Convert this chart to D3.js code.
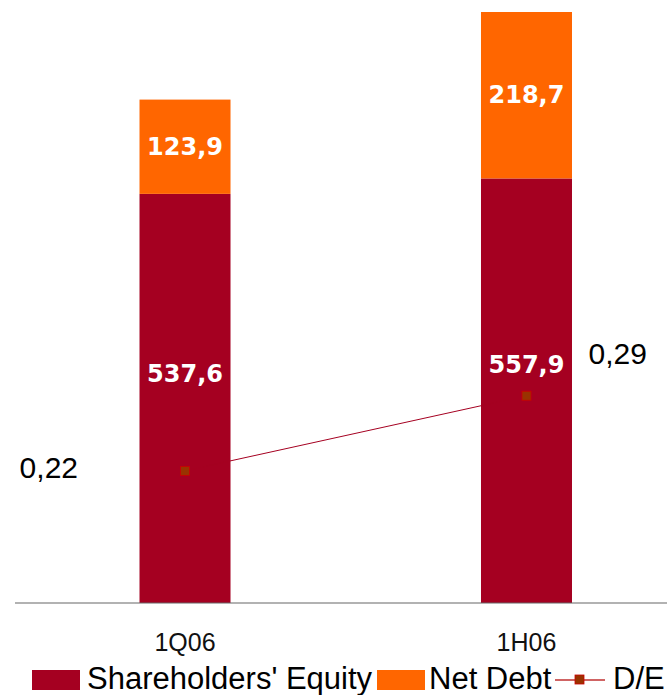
<!DOCTYPE html>
<html>
<head>
<meta charset="utf-8">
<script src="https://cdn.jsdelivr.net/npm/d3@7"></script>
<style>
  html, body { margin: 0; padding: 0; background: #fff; }
  svg { display: block; }
</style>
</head>
<body>
<svg id="chart" width="667" height="695"></svg>
<script>
// ---- data ----
const categories = ["1Q06", "1H06"];
const equity = [537.6, 557.9];
const netDebt = [123.9, 218.7];
const deRatio = [0.22, 0.29];
const equityLabels = ["537,6", "557,9"];
const netDebtLabels = ["123,9", "218,7"];
const deLabels = ["0,22", "0,29"];
const legendLabels = ["Shareholders' Equity", "Net Debt", "D/E"];

// ---- styles ----
const cEquity = "#A50021";
const cDebt = "#FF6600";
const cLine = "#A50021";
const cMarker = "#993300";

const svg = d3.select("#chart");
const W = 667, H = 695;
const baseY = 603;

const x = d3.scaleBand()
  .domain(categories)
  .range([14.25, 697.25])
  .paddingInner(0.7335)
  .paddingOuter(0.3668);

const totals = equity.map((v, i) => v + netDebt[i]);
const y = d3.scaleLinear()
  .domain([0, d3.max(totals)])
  .range([baseY, 12]);

const y2 = d3.scaleLinear()
  .domain([0, 0.3])
  .range([707, 385]);

const rows = categories.map((c, i) => ({
  c, eq: equity[i], nd: netDebt[i], de: deRatio[i],
  eqL: equityLabels[i], ndL: netDebtLabels[i], deL: deLabels[i], i
}));

// bars
const g = svg.append("g");
g.selectAll("rect.eq").data(rows).join("rect")
  .attr("class", "eq")
  .attr("x", d => x(d.c))
  .attr("width", x.bandwidth())
  .attr("y", d => y(d.eq))
  .attr("height", d => y(0) - y(d.eq))
  .attr("fill", cEquity);

g.selectAll("rect.nd").data(rows).join("rect")
  .attr("class", "nd")
  .attr("x", d => x(d.c))
  .attr("width", x.bandwidth())
  .attr("y", d => y(d.eq + d.nd))
  .attr("height", d => y(d.eq) - y(d.eq + d.nd))
  .attr("fill", cDebt);

// bar labels
const barFont = "'DejaVu Sans', Verdana, sans-serif";
g.selectAll("text.eqL").data(rows).join("text")
  .attr("x", d => x(d.c) + x.bandwidth() / 2)
  .attr("y", d => y(d.eq) + 0.44 * (y(0) - y(d.eq)))
  .attr("text-anchor", "middle")
  .attr("dominant-baseline", "central")
  .attr("font-family", barFont)
  .attr("font-weight", "bold")
  .attr("font-size", 24)
  .attr("fill", "#fff")
  .text(d => d.eqL);

g.selectAll("text.ndL").data(rows).join("text")
  .attr("x", d => x(d.c) + x.bandwidth() / 2)
  .attr("y", d => (y(d.eq) + y(d.eq + d.nd)) / 2)
  .attr("text-anchor", "middle")
  .attr("dominant-baseline", "central")
  .attr("font-family", barFont)
  .attr("font-weight", "bold")
  .attr("font-size", 24)
  .attr("fill", "#fff")
  .text(d => d.ndL);

// baseline axis line
svg.append("line")
  .attr("x1", 15).attr("x2", W)
  .attr("y1", baseY).attr("y2", baseY)
  .attr("stroke", "#666").attr("stroke-width", 1.2);

// category axis
const xAxis = d3.axisBottom(x).tickSize(0).tickPadding(0);
const ax = svg.append("g").attr("transform", `translate(0,${baseY})`).call(xAxis);
ax.select(".domain").remove();
ax.selectAll("text")
  .attr("y", 48).attr("dy", 0)
  .attr("font-family", "'Liberation Sans', Arial, sans-serif")
  .attr("font-size", 25)
  .attr("fill", "#111");

// D/E line
const cx = d => x(d.c) + x.bandwidth() / 2;
const line = d3.line().x(d => cx(d)).y(d => y2(d.de));
svg.append("path")
  .datum(rows)
  .attr("d", line)
  .attr("fill", "none")
  .attr("stroke", cLine)
  .attr("stroke-width", 1);

svg.selectAll("rect.mk").data(rows).join("rect")
  .attr("x", d => cx(d) - 4.5)
  .attr("y", d => y2(d.de) - 4.5)
  .attr("width", 9).attr("height", 9)
  .attr("fill", cMarker)
  .attr("stroke", "#CC0000")
  .attr("stroke-width", 0.8);

// D/E labels
svg.selectAll("text.deL").data(rows).join("text")
  .attr("x", d => d.i === 0 ? cx(d) - 107 : cx(d) + 62)
  .attr("y", d => d.i === 0 ? y2(d.de) + 7 : y2(d.de) - 32)
  .attr("text-anchor", d => d.i === 0 ? "end" : "start")
  .attr("font-family", "'Liberation Sans', Arial, sans-serif")
  .attr("font-size", 30)
  .attr("fill", "#000")
  .text(d => d.deL);

// legend
const legY = 680;
const lg = svg.append("g");
const legFont = "'Liberation Sans', Arial, sans-serif";
lg.append("rect").attr("x", 32).attr("y", legY - 10).attr("width", 48).attr("height", 20).attr("fill", cEquity);
lg.append("text").attr("x", 87).attr("y", legY + 9)
  .attr("font-family", legFont).attr("font-size", 31).attr("fill", "#000")
  .text(legendLabels[0]);
lg.append("rect").attr("x", 377).attr("y", legY - 10).attr("width", 48).attr("height", 20).attr("fill", cDebt);
lg.append("text").attr("x", 429).attr("y", legY + 9)
  .attr("font-family", legFont).attr("font-size", 31).attr("fill", "#000")
  .text(legendLabels[1]);
lg.append("line").attr("x1", 555).attr("x2", 605).attr("y1", legY).attr("y2", legY)
  .attr("stroke", "#C03030").attr("stroke-width", 1.4);
lg.append("rect").attr("x", 575).attr("y", legY - 5).attr("width", 9).attr("height", 9)
  .attr("fill", cMarker).attr("stroke", "#CC0000").attr("stroke-width", 0.8);
lg.append("text").attr("x", 613).attr("y", legY + 9)
  .attr("font-family", legFont).attr("font-size", 31).attr("fill", "#000")
  .text(legendLabels[2]);
</script>
</body>
</html>
